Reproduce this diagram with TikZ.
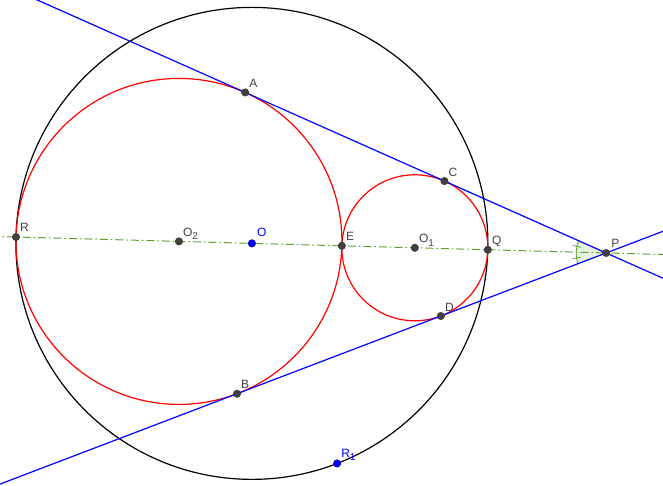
\documentclass[tikz,border=0pt]{standalone}
\usepackage{fontspec}
\setmainfont{Liberation Sans}
\usetikzlibrary{calc}
\definecolor{axisgreen}{RGB}{96,160,48}
\definecolor{ptgray}{RGB}{64,64,64}
\definecolor{lblgray}{RGB}{64,64,64}
\newcommand{\lowsub}[1]{\raisebox{-3.5pt}{\fontsize{10}{10}\selectfont #1}}
\tikzset{
 circred/.style={draw=red, line width=1.2pt},
 circblack/.style={draw=black, line width=1.2pt},
 tline/.style={draw=blue, line width=1.2pt},
 axisline/.style={draw=axisgreen, line width=1pt, dash pattern=on 8pt off 3pt on 1.5pt off 3pt},
 anglemark/.style={draw=axisgreen, line width=0.8pt},
 pt/.style={circle, inner sep=0pt, minimum size=7.5pt, fill=ptgray, draw=black!80, line width=0.4pt},
 bpt/.style={pt, fill=blue, draw=blue!60!black},
 lbl/.style={text=lblgray, inner sep=0pt, anchor=base west, font=\fontsize{12}{12}\selectfont},
 blbl/.style={lbl, text=blue},
}
\begin{document}
\begin{tikzpicture}[x=1pt,y=1pt]
\useasboundingbox (0,0) rectangle (663,485);
\clip (0,0) rectangle (663,485);
\begin{scope}[shift={(16,248)}, rotate=-1.5507]
 \coordinate (R) at (0,0);
 \coordinate (O2) at (163,0);
 \coordinate (O) at (236,0);
 \coordinate (E) at (326,0);
 \coordinate (O1) at (399,0);
 \coordinate (Q) at (472,0);
 \coordinate (P) at (590.4,0);
 \coordinate (A) at (225.2,150.7);
 \coordinate (B) at (225.2,-150.7);
 \coordinate (C) at (426.8,67.5);
 \coordinate (D) at (426.8,-67.5);
 \coordinate (R1) at (327.1,-217.7);
 \coordinate (axL) at (-40,0);
 \coordinate (axR) at (720,0);
 \draw[circblack] (O) circle[radius=236];
 \draw[circred] (O2) circle[radius=163];
 \draw[circred] (O1) circle[radius=73];
 \fill[axisgreen, fill opacity=0.15] (P) -- ++(157.58:30) arc[start angle=157.58, end angle=202.42, radius=30] -- cycle;
 \draw[anglemark] (P) ++(157.58:30) arc[start angle=157.58, end angle=202.42, radius=30];
 \draw[anglemark] (P) ++(168.8:26) -- ++(168.8:8);
 \draw[anglemark] (P) ++(191.2:26) -- ++(191.2:8);
 \draw[axisline] (axL) -- (axR);
 \draw[tline] ($(P)!-0.3!(A)$) -- ($(P)!2.2!(A)$);
 \draw[tline] ($(P)!-0.3!(B)$) -- ($(P)!2.2!(B)$);
\end{scope}
\node[pt] (nR) at (R) {};
\node[pt] (nO2) at (O2) {};
\node[bpt] (nO) at (O) {};
\node[pt] (nE) at (E) {};
\node[pt] (nO1) at (O1) {};
\node[pt] (nQ) at (Q) {};
\node[pt] (nP) at (P) {};
\node[pt] (nA) at (A) {};
\node[pt] (nB) at (B) {};
\node[pt] (nC) at (C) {};
\node[pt] (nD) at (D) {};
\node[bpt] (nR1) at (R1) {};
\node[lbl] (lR) at ($(nR)+(4,5)$) {R};
\node[lbl] (lO2) at ($(nO2)+(4,5)$) {O\lowsub{2}};
\node[blbl] (lO) at ($(nO)+(5,7)$) {O};
\node[lbl] (lE) at ($(nE)+(4,5)$) {E};
\node[lbl] (lO1) at ($(nO1)+(4,5)$) {O\lowsub{1}};
\node[lbl] (lQ) at ($(nQ)+(4,5)$) {Q};
\node[lbl] (lP) at ($(nP)+(5,5)$) {P};
\node[lbl] (lA) at ($(nA)+(4,5)$) {A};
\node[lbl] (lB) at ($(nB)+(4,5)$) {B};
\node[lbl] (lC) at ($(nC)+(4,5)$) {C};
\node[lbl] (lD) at ($(nD)+(4,5)$) {D};
\node[blbl] (lR1) at ($(nR1)+(4,6)$) {R\lowsub{1}};
\end{tikzpicture}
\end{document}
